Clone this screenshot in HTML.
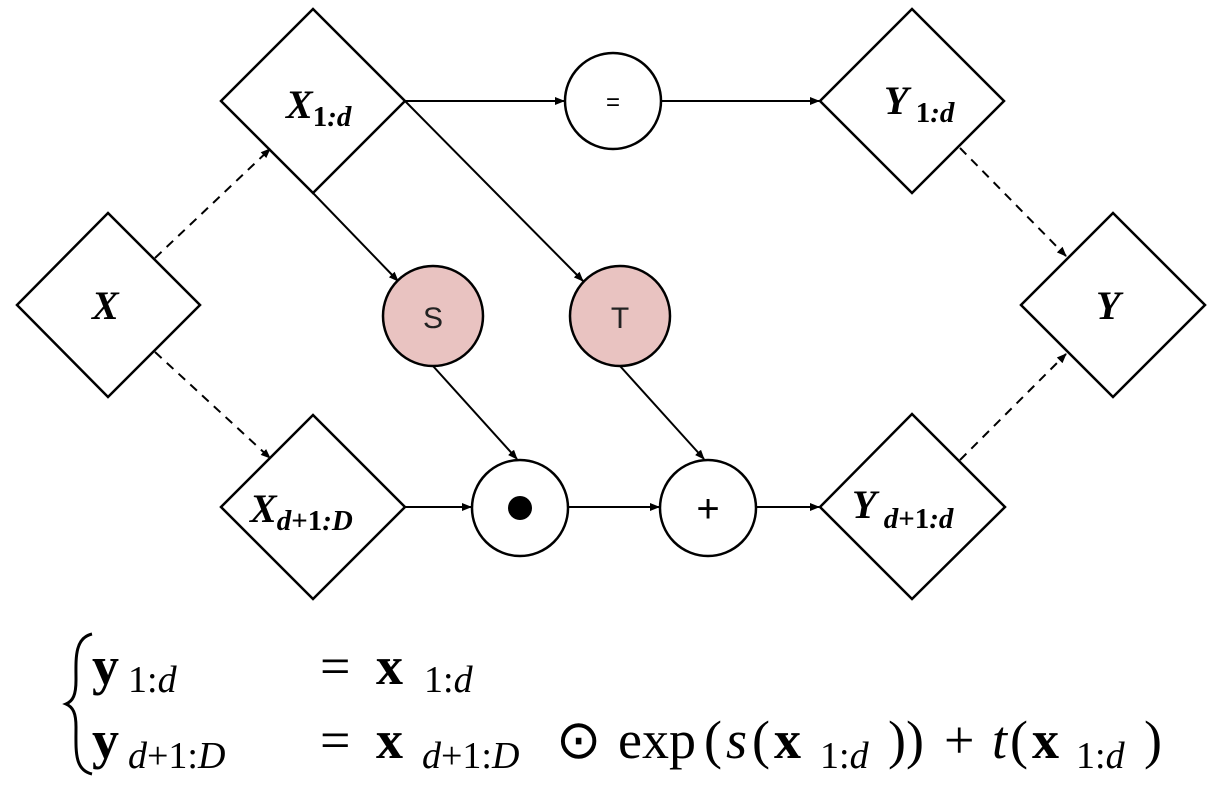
<!DOCTYPE html>
<html><head><meta charset="utf-8"><style>
html,body{margin:0;padding:0;background:#fff;width:1222px;height:788px;overflow:hidden}
svg{display:block}
.lb{font-family:"Liberation Serif",serif;font-weight:bold;font-style:italic;font-size:40px;fill:#000}
.sb{font-size:29px}
.eq{font-family:"Liberation Serif",serif;font-size:54px;fill:#000}
.s{font-size:38px}
.b{font-weight:bold}
.i{font-style:italic}
</style></head><body>
<svg width="1222" height="788" viewBox="0 0 1222 788" xmlns="http://www.w3.org/2000/svg">
<defs>
<marker id="a" markerWidth="10" markerHeight="10" refX="9" refY="5" orient="auto" markerUnits="userSpaceOnUse"><path d="M0,1 L10,5 L0,9 z" fill="#000"/></marker>
</defs>
<g stroke="#000" stroke-width="2.5" fill="#fff">
<polygon points="313,9 405,101 313,193 221,101"/>
<polygon points="108,213 200,305 108,397 17,305"/>
<polygon points="313,415 405,507 313,599 221,507"/>
<polygon points="912,9 1004,101 912,193 820,101"/>
<polygon points="1113,213 1205,305 1113,397 1021,305"/>
<polygon points="912,414 1005,507 912,599 820,507"/>
<circle cx="613" cy="101" r="48"/>
<circle cx="433" cy="316" r="50" fill="#e9c3c1"/>
<circle cx="620" cy="316" r="50" fill="#e9c3c1"/>
<circle cx="520" cy="508" r="48"/>
<circle cx="708" cy="508" r="48"/>
</g>
<circle cx="520" cy="508" r="12" fill="#000"/>
<g stroke="#000" stroke-width="2" fill="none" marker-end="url(#a)">
<line x1="405" y1="101" x2="564" y2="101"/>
<line x1="661" y1="101" x2="819" y2="101"/>
<line x1="405" y1="507" x2="471" y2="507"/>
<line x1="568" y1="507" x2="659" y2="507"/>
<line x1="756" y1="507" x2="819" y2="507"/>
<line x1="313" y1="193" x2="398" y2="281"/>
<line x1="405" y1="101" x2="583" y2="281"/>
<line x1="433" y1="366" x2="517" y2="459"/>
<line x1="620" y1="366" x2="704" y2="459"/>
<g stroke-dasharray="9,7">
<line x1="155" y1="258" x2="270" y2="149"/>
<line x1="155" y1="352" x2="270" y2="458"/>
<line x1="960" y1="148" x2="1066" y2="256"/>
<line x1="960" y1="460" x2="1066" y2="354"/>
</g>
</g>
<text x="613" y="110" text-anchor="middle" font-family="Liberation Sans,sans-serif" font-size="24">=</text>
<text x="433" y="328" text-anchor="middle" font-family="Liberation Sans,sans-serif" font-size="30" fill="#222">S</text>
<text x="620" y="328" text-anchor="middle" font-family="Liberation Sans,sans-serif" font-size="30" fill="#222">T</text>
<text x="708" y="522" text-anchor="middle" font-family="Liberation Sans,sans-serif" font-size="40">+</text>
<text class="lb" x="286" y="118">X<tspan class="sb" dy="8" font-style="normal">1</tspan><tspan class="sb">:d</tspan></text>
<text class="lb" x="92" y="319">X</text>
<text class="lb" x="250" y="522">X<tspan class="sb" dy="8">d</tspan><tspan class="sb" font-style="normal">+1</tspan><tspan class="sb">:D</tspan></text>
<text class="lb" x="884" y="114">Y<tspan class="sb" dy="8" font-style="normal"> 1</tspan><tspan class="sb">:d</tspan></text>
<text class="lb" x="1096" y="319">Y</text>
<text class="lb" x="852" y="518">Y<tspan class="sb" dy="10"> d</tspan><tspan class="sb" font-style="normal">+1</tspan><tspan class="sb">:d</tspan></text>
<path d="M92,634 C74,638 76,660 76,680 C76,695 73,701 66,704 C73,707 76,713 76,727 C76,750 74,770 92,774" stroke="#000" stroke-width="3" fill="none"/>
<g class="eq">
<text x="92" y="684" class="b">y</text>
<text x="128" y="692" class="s">1:<tspan class="i">d</tspan></text>
<text x="320" y="684">=</text>
<text x="376" y="684" class="b">x</text>
<text x="424" y="692" class="s">1:<tspan class="i">d</tspan></text>
<text x="92" y="758" class="b">y</text>
<text x="128" y="768" class="s"><tspan class="i">d</tspan>+1:<tspan class="i">D</tspan></text>
<text x="320" y="758">=</text>
<text x="376" y="758" class="b">x</text>
<text x="422" y="768" class="s"><tspan class="i">d</tspan>+1:<tspan class="i">D</tspan></text>
<text x="556" y="758">⊙</text>
<text x="618" y="758">exp</text>
<text x="704" y="758">(</text>
<text x="726" y="758" class="i">s</text>
<text x="752" y="758">(</text>
<text x="774" y="758" class="b">x</text>
<text x="820" y="768" class="s">1:<tspan class="i">d</tspan></text>
<text x="888" y="758">))</text>
<text x="944" y="758">+</text>
<text x="992" y="758" class="i">t</text>
<text x="1010" y="758">(</text>
<text x="1032" y="758" class="b">x</text>
<text x="1076" y="768" class="s">1:<tspan class="i">d</tspan></text>
<text x="1144" y="758">)</text>
</g>
</svg>
</body></html>
